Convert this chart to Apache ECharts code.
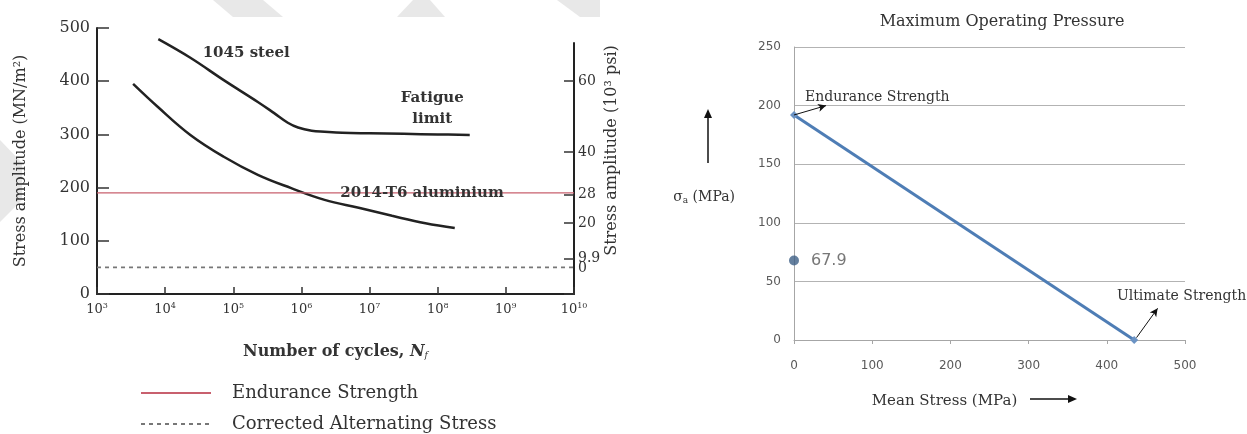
<!DOCTYPE html>
<html><head><meta charset="utf-8">
<script src="https://cdn.jsdelivr.net/npm/echarts@6/dist/echarts.min.js"></script>
<style>html,body{margin:0;padding:0;background:#fff}#c{width:1247px;height:434px}</style>
</head><body><div id="c"></div>
<script>
// ---- data ----
const steelLogN   = [3.90, 4.37, 4.86, 5.36, 5.60, 5.80, 5.95, 6.15, 6.34, 6.60, 7.00, 7.50, 8.00, 8.47];
const steelStress = [479, 444, 402, 361, 340, 322, 313, 307, 305, 303, 302, 301, 300, 299];
const alLogN      = [3.53, 3.89, 4.37, 4.86, 5.36, 5.85, 6.34, 6.84, 7.33, 7.82, 8.25];
const alStress    = [395, 352, 299, 258, 224, 199, 177, 162, 147, 133, 124];
const enduranceMPa = 190;
const correctedMPa = 50;
const cycleExpRange = [3, 10];
const stressRange = [0, 500];
const psiTicks = [0, 9.9, 20, 28, 40, 60];
const psiMax = 70.7;
const goodmanMean = [0, 435];
const goodmanAlt  = [192, 0];
const operatingPoint = [0, 67.9];
const meanRange = [0, 500];
const altRange = [0, 250];

const SERIF = '"DejaVu Serif", "Liberation Serif", serif';
const SANS = '"DejaVu Sans", "Liberation Sans", sans-serif';
const pow10 = e => Math.pow(10, e);
const WM = '#e8e8e8';

const chart = echarts.init(document.getElementById('c'), null, {renderer: 'canvas'});
const option = {
  backgroundColor: '#fff',
  animation: false,
  title: {
    text: 'Maximum Operating Pressure', left: 997, top: 9, textAlign: 'center',
    textStyle: {fontFamily: SERIF, fontSize: 16, fontWeight: 'normal', color: '#333'}
  },
  legend: {
    data: ['Endurance Strength', 'Corrected Alternating Stress'],
    orient: 'vertical', left: 140, top: 383, height: 60, padding: 0,
    itemWidth: 70, itemHeight: 14, itemGap: 11,
    itemStyle: {color: 'rgba(0,0,0,0)', borderWidth: 0, opacity: 0},
    textStyle: {fontFamily: SERIF, fontSize: 18, lineHeight: 20, color: '#333', padding: [0, 0, 0, 16]}
  },
  grid: [
    {left: 97, right: 673, top: 28, bottom: 140},
    {left: 97, right: 673, top: 43, bottom: 140},
    {left: 794, right: 62, top: 47, bottom: 94}
  ],
  xAxis: [
    {
      gridIndex: 0, type: 'log', logBase: 10, min: pow10(cycleExpRange[0]), max: pow10(cycleExpRange[1]),
      axisLine: {lineStyle: {color: '#222', width: 2}},
      axisTick: {inside: true, length: 7, lineStyle: {color: '#333', width: 1.5}},
      splitLine: {show: false}, minorTick: {show: false},
      axisLabel: {
        margin: 8, color: '#333', fontFamily: SERIF, fontSize: 13,
        formatter: v => '10{s|' + Math.round(Math.log10(v)) + '}',
        rich: {s: {fontSize: 8, fontFamily: SERIF, color: '#333', verticalAlign: 'top', padding: [0, 0, 8, 0]}}
      },
      name: '{n|Number of cycles, }{i|N}{f|f}', nameLocation: 'middle', nameGap: 49,
      nameTextStyle: {
        rich: {
          n: {fontFamily: SERIF, fontSize: 16, color: '#333', fontWeight: 'bold'},
          i: {fontFamily: SERIF, fontSize: 16, color: '#333', fontStyle: 'italic', fontWeight: 'bold'},
          f: {fontFamily: SERIF, fontSize: 9, color: '#333', fontStyle: 'italic', padding: [8, 0, 0, 0]}
        }
      }
    },
    {gridIndex: 1, type: 'value', min: 0, max: 1, show: false},
    {
      gridIndex: 2, type: 'value', min: meanRange[0], max: meanRange[1], interval: 100,
      axisLine: {lineStyle: {color: '#a6a6a6', width: 1}},
      axisTick: {show: true, length: 4, lineStyle: {color: '#a6a6a6'}},
      splitLine: {show: false},
      axisLabel: {margin: 20, color: '#595959', fontFamily: SANS, fontSize: 12},
      name: 'Mean Stress (MPa)', nameLocation: 'middle', nameGap: 54,
      nameTextStyle: {fontFamily: SERIF, fontSize: 15, color: '#333', padding: [0, 90, 0, 0]}
    }
  ],
  yAxis: [
    {
      gridIndex: 0, type: 'value', min: stressRange[0], max: stressRange[1], interval: 100,
      axisLine: {show: true, onZero: false, lineStyle: {color: '#222', width: 2}},
      axisTick: {show: true, inside: true, length: 12, lineStyle: {color: '#333', width: 1.5}},
      splitLine: {show: false},
      axisLabel: {margin: 7, color: '#333', fontFamily: SERIF, fontSize: 16},
      name: 'Stress amplitude (MN/m²)', nameLocation: 'middle', nameGap: 68, nameRotate: 90,
      nameTextStyle: {fontFamily: SERIF, fontSize: 16, color: '#333'}
    },
    {
      gridIndex: 1, type: 'value', position: 'right', min: 0, max: psiMax,
      axisLine: {show: true, onZero: false, lineStyle: {color: '#222', width: 2}},
      axisTick: {show: true, inside: true, length: 10, customValues: psiTicks, lineStyle: {color: '#333', width: 1.5}},
      splitLine: {show: false},
      axisLabel: {
        margin: 4, color: '#333', fontFamily: SERIF, fontSize: 14, lineHeight: 10,
        customValues: psiTicks.filter(v => v !== 0),
        // the "0" label sits squeezed right under "9.9" in the original
        formatter: v => v === psiTicks[1] ? '\n' + v + '\n' + psiTicks[0] : String(v)
      },
      name: 'Stress amplitude (10³ psi)', nameLocation: 'middle', nameGap: 30, nameRotate: 90,
      nameTextStyle: {fontFamily: SERIF, fontSize: 16, color: '#333', padding: [0, 0, 0, 36]}
    },
    {
      gridIndex: 2, type: 'value', min: altRange[0], max: altRange[1], interval: 50,
      axisLine: {show: true, onZero: false, lineStyle: {color: '#a6a6a6', width: 1}},
      axisTick: {show: false},
      splitLine: {show: true, lineStyle: {color: '#b3b3b3', width: 1.2}},
      axisLabel: {margin: 13, color: '#595959', fontFamily: SANS, fontSize: 12},
      name: '{s|σ}{a|a}{t| (MPa)}', nameLocation: 'middle', nameGap: 59, nameRotate: 0,
      nameTextStyle: {
        align: 'right', padding: [8, 0, 0, 0],
        rich: {
          s: {fontFamily: SERIF, fontSize: 14, color: '#333'},
          a: {fontFamily: SERIF, fontSize: 9, color: '#333', padding: [6, 0, 0, 0]},
          t: {fontFamily: SERIF, fontSize: 14, color: '#333'}
        }
      }
    }
  ],
  series: [
    {
      name: '1045 steel', type: 'line', xAxisIndex: 0, yAxisIndex: 0, smooth: 0.4, symbol: 'none',
      lineStyle: {color: '#222', width: 2.5}, itemStyle: {color: '#222'},
      data: steelLogN.map((e, i) => [pow10(e), steelStress[i]]),
      markPoint: {
        symbol: 'circle', symbolSize: 0, silent: true,
        label: {show: true, position: 'inside', fontFamily: SERIF, fontSize: 15, fontWeight: 'bold', color: '#333', lineHeight: 21},
        data: [
          {coord: [pow10(5.19), 452], value: '1045 steel', label: {formatter: '1045 steel'}},
          {coord: [pow10(7.92), 349], value: 'Fatigue limit', label: {formatter: 'Fatigue\nlimit'}}
        ]
      }
    },
    {
      name: '2014-T6 aluminium', type: 'line', xAxisIndex: 0, yAxisIndex: 0, smooth: 0.4, symbol: 'none',
      lineStyle: {color: '#222', width: 2.5}, itemStyle: {color: '#222'},
      data: alLogN.map((e, i) => [pow10(e), alStress[i]])
    },
    {
      name: 'Endurance Strength', type: 'line', xAxisIndex: 0, yAxisIndex: 0, symbol: 'none', z: 3,
      lineStyle: {color: '#c8606e', width: 1.2}, itemStyle: {color: '#c8606e'},
      data: [[pow10(cycleExpRange[0]), enduranceMPa], [pow10(cycleExpRange[1]), enduranceMPa]],
      markPoint: {
        symbol: 'circle', symbolSize: 0, silent: true,
        label: {show: true, position: 'inside', fontFamily: SERIF, fontSize: 15, fontWeight: 'bold', color: '#333'},
        data: [{coord: [pow10(7.77), enduranceMPa], value: '2014-T6 aluminium', label: {formatter: '2014-T6 aluminium'}}]
      }
    },
    {
      name: 'Corrected Alternating Stress', type: 'line', xAxisIndex: 0, yAxisIndex: 0, symbol: 'none',
      lineStyle: {color: '#777', width: 1.6, type: [4, 4]}, itemStyle: {color: '#777'},
      data: [[pow10(cycleExpRange[0]), correctedMPa], [pow10(cycleExpRange[1]), correctedMPa]]
    },
    {
      name: 'Goodman', type: 'line', xAxisIndex: 2, yAxisIndex: 2, symbol: 'diamond', symbolSize: 8,
      lineStyle: {color: '#4e7db5', width: 3}, itemStyle: {color: '#6b93c4'},
      data: goodmanMean.map((m, i) => [m, goodmanAlt[i]]),
      markLine: {
        silent: true, symbol: ['none', 'arrow'], symbolSize: [6, 8],
        lineStyle: {color: '#111', width: 1, type: 'solid'}, label: {show: false},
        data: [
          [{coord: [0, 192]}, {coord: [41, 200]}],
          [{coord: [438, 2]}, {coord: [465, 27]}]
        ]
      },
      markPoint: {
        symbol: 'circle', symbolSize: 0, silent: true,
        label: {show: true, position: 'right', distance: 0, fontFamily: SERIF, fontSize: 14, color: '#333'},
        data: [
          {coord: [14, 207], value: 'Endurance Strength', label: {formatter: 'Endurance Strength'}},
          {coord: [413, 37], value: 'Ultimate Strength', label: {formatter: 'Ultimate Strength'}}
        ]
      }
    },
    {
      name: 'Operating point', type: 'scatter', xAxisIndex: 2, yAxisIndex: 2, symbolSize: 10,
      itemStyle: {color: '#3d5f86'},
      label: {show: true, position: 'right', distance: 12, fontFamily: SANS, fontSize: 16, color: '#555', formatter: p => String(p.value[1])},
      data: [operatingPoint]
    }
  ],
  graphic: [
    {type: 'polygon', z: -10, shape: {points: [[213, 0], [263, 0], [283, 17], [233, 17]]}, style: {fill: WM}},
    {type: 'polygon', z: -10, shape: {points: [[413, 0], [430, 0], [445, 17], [397, 17]]}, style: {fill: WM}},
    {type: 'polygon', z: -10, shape: {points: [[557, 0], [600, 0], [600, 17], [580, 17]]}, style: {fill: WM}},
    {type: 'polygon', z: -10, shape: {points: [[0, 140], [22, 163], [22, 200], [0, 222]]}, style: {fill: WM}},
    {type: 'line', shape: {x1: 1030, y1: 399, x2: 1070, y2: 399}, style: {stroke: '#111', lineWidth: 1.5}},
    {type: 'polygon', shape: {points: [[1077, 399], [1068, 395], [1068, 403]]}, style: {fill: '#111'}},
    {type: 'line', shape: {x1: 708, y1: 163, x2: 708, y2: 117}, style: {stroke: '#111', lineWidth: 1.5}},
    {type: 'polygon', shape: {points: [[708, 109], [704, 118], [712, 118]]}, style: {fill: '#111'}}
  ]
};
chart.setOption(option);
</script></body></html>
